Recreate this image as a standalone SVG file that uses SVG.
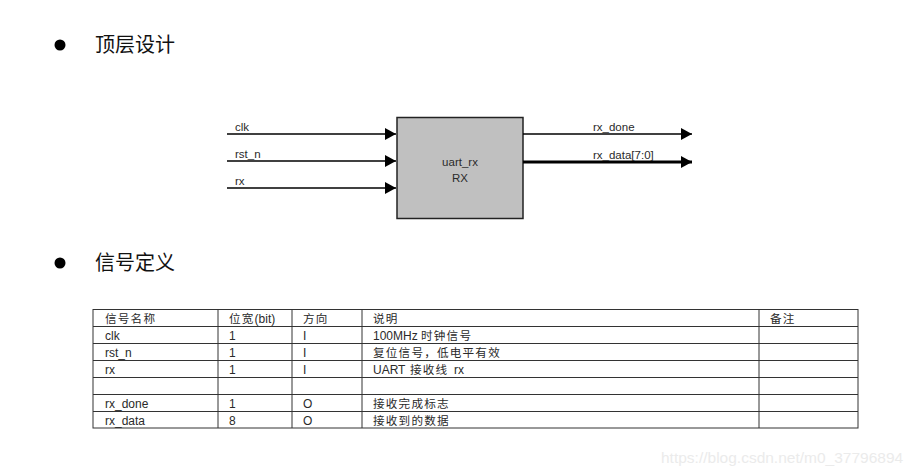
<svg xmlns="http://www.w3.org/2000/svg" width="917" height="476" viewBox="0 0 917 476">
<style>
text{font-family:"Liberation Sans","Noto Sans CJK SC",sans-serif;fill:#2a2a2a;}
.h{font-family:"Noto Sans CJK SC",sans-serif;font-size:20px;fill:#111;}
.s{font-size:11.5px;}
.t{font-size:12px;}
.c{font-family:"Noto Sans CJK SC",sans-serif;font-size:11.6px;letter-spacing:1.2px;}
.w{stroke:#000;stroke-width:1.5;fill:none;}
.wb{stroke:#000;stroke-width:3;fill:none;}
.g{stroke:#333;stroke-width:1;fill:none;}
</style>
<defs>
<marker id="ah" markerWidth="11" markerHeight="12" refX="11" refY="6" orient="auto" markerUnits="userSpaceOnUse">
<path d="M0,0 L11,6 L0,12 Z" fill="#000"/>
</marker>
</defs>
<rect width="917" height="476" fill="#fff"/>
<g id="heading1">
<circle cx="60" cy="45" r="5.5" fill="#000"/>
<text class="h" x="95" y="52">顶层设计</text>
</g>
<g id="heading2">
<circle cx="60" cy="263" r="5.5" fill="#000"/>
<text class="h" x="95" y="270">信号定义</text>
</g>
<g id="uart_rx">
<rect x="397" y="117.5" width="126" height="101" fill="#c0c0c0" stroke="#222" stroke-width="1.5"/>
<text class="s" x="460" y="166" text-anchor="middle">uart_rx</text>
<text class="s" x="460" y="182" text-anchor="middle">RX</text>
</g>
<g id="connectors">
<line class="w" x1="227" y1="134" x2="396" y2="134" marker-end="url(#ah)"/>
<line class="w" x1="227" y1="161" x2="396" y2="161" marker-end="url(#ah)"/>
<line class="w" x1="227" y1="188" x2="396" y2="188" marker-end="url(#ah)"/>
<line class="w" x1="523" y1="134" x2="692" y2="134" marker-end="url(#ah)"/>
<line class="wb" x1="523" y1="162" x2="692" y2="162" marker-end="url(#ah)"/>
<text class="s" x="235" y="131">clk</text>
<text class="s" x="235" y="158">rst_n</text>
<text class="s" x="235" y="185">rx</text>
<text class="s" x="593" y="131">rx_done</text>
<text class="s" x="593" y="159">rx_data[7:0]</text>
</g>
<g id="table">
<rect x="93" y="309.5" width="765" height="118.5" fill="none" stroke="#333" stroke-width="1"/>
<line class="g" x1="93" y1="326.5" x2="858" y2="326.5"/>
<line class="g" x1="93" y1="343.5" x2="858" y2="343.5"/>
<line class="g" x1="93" y1="360.5" x2="858" y2="360.5"/>
<line class="g" x1="93" y1="377.5" x2="858" y2="377.5"/>
<line class="g" x1="93" y1="394.5" x2="858" y2="394.5"/>
<line class="g" x1="93" y1="411.5" x2="858" y2="411.5"/>
<line class="g" x1="218" y1="309.5" x2="218" y2="428"/>
<line class="g" x1="292" y1="309.5" x2="292" y2="428"/>
<line class="g" x1="362" y1="309.5" x2="362" y2="428"/>
<line class="g" x1="759" y1="309.5" x2="759" y2="428"/>
<text class="c" x="105" y="323">信号名称</text>
<text class="t" x="229" y="323"><tspan class="c">位宽</tspan>(bit)</text>
<text class="c" x="303" y="323">方向</text>
<text class="c" x="373" y="323">说明</text>
<text class="c" x="770" y="323">备注</text>
<text class="t" x="105" y="340">clk</text>
<text class="t" x="229" y="340">1</text>
<text class="t" x="303" y="340">I</text>
<text class="t" x="373" y="340">100MHz <tspan class="c">时钟信号</tspan></text>
<text class="t" x="105" y="357">rst_n</text>
<text class="t" x="229" y="357">1</text>
<text class="t" x="303" y="357">I</text>
<text class="c" x="373" y="357">复位信号，低电平有效</text>
<text class="t" x="105" y="374">rx</text>
<text class="t" x="229" y="374">1</text>
<text class="t" x="303" y="374">I</text>
<text class="t" x="373" y="374">UART</text>
<text class="c" x="410" y="374">接收线</text>
<text class="t" x="454" y="374">rx</text>
<text class="t" x="105" y="408">rx_done</text>
<text class="t" x="229" y="408">1</text>
<text class="t" x="303" y="408">O</text>
<text class="c" x="373" y="408">接收完成标志</text>
<text class="t" x="105" y="425">rx_data</text>
<text class="t" x="229" y="425">8</text>
<text class="t" x="303" y="425">O</text>
<text class="c" x="373" y="425">接收到的数据</text>
</g>
<text x="661" y="463" style="font-family:'Liberation Sans',sans-serif;font-size:15.5px;fill:#ebebeb;">https://blog.csdn.net/m0_37796894</text>
</svg>
